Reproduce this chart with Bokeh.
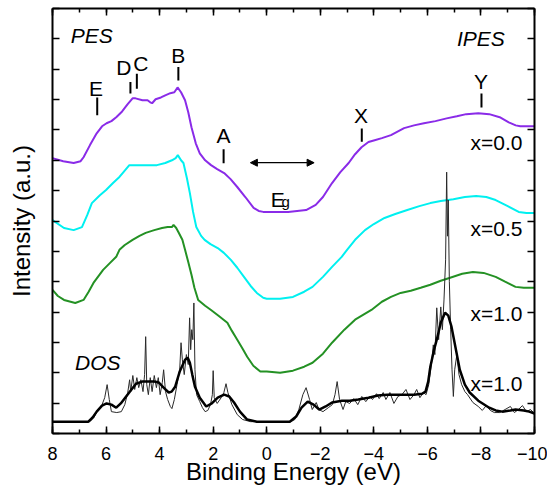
from bokeh.plotting import figure
from bokeh.models import Range1d, LinearAxis, SingleIntervalTicker, Arrow, NormalHead, CustomJSTickFormatter
from bokeh.embed import file_html
from bokeh.resources import INLINE
from bokeh.core.properties import value

# ---------------- data (binding energy in eV, intensity in arbitrary units) ----------------
pes0_x = [8.0, 7.6, 7.21, 6.95, 6.84, 6.6, 6.35, 6.15, 5.98, 5.8, 5.62, 5.4, 5.2, 5.01, 4.9, 4.64,
          4.45, 4.35, 4.28, 4.15, 3.95, 3.79, 3.6, 3.45, 3.33, 3.2, 3.05, 2.93, 2.81, 2.65, 2.5, 2.3,
          2.08, 1.85, 1.59, 1.35, 1.1, 0.8, 0.49, 0.3, 0.13, 0.0, -0.8, -1.47, -1.83, -2.1, -2.44,
          -2.75, -3.06, -3.3, -3.54, -3.8, -4.03, -4.3, -4.64, -5.13, -5.5, -5.87, -6.3, -6.72,
          -7.1, -7.45, -7.9, -8.31, -8.7, -9.04, -9.3, -9.47, -10.0]
pes0_y = [9.07, 8.97, 8.91, 8.97, 9.10, 9.50, 9.89, 10.12, 10.22, 10.29, 10.42, 10.61, 10.84, 11.04,
          11.04, 10.98, 10.98, 10.91, 10.88, 11.01, 11.07, 11.14, 11.21, 11.24, 11.40, 11.24, 10.98,
          10.58, 10.09, 9.56, 9.23, 9.00, 8.84, 8.71, 8.58, 8.38, 8.12, 7.79, 7.43, 7.33, 7.30, 7.30,
          7.30, 7.36, 7.53, 7.79, 8.25, 8.61, 8.91, 9.20, 9.43, 9.60, 9.66, 9.73, 9.83, 10.06, 10.15,
          10.22, 10.29, 10.38, 10.45, 10.52, 10.55, 10.52, 10.42, 10.25, 10.15, 10.12, 10.12]

pes05_x = [8.0, 7.57, 7.21, 6.9, 6.7, 6.53, 6.23, 6.0, 5.74, 5.5, 5.38, 5.13, 4.8, 4.4, 4.1, 3.79,
           3.54, 3.4, 3.32, 3.2, 3.11, 2.98, 2.87, 2.75, 2.63, 2.45, 2.32, 2.1, 1.83, 1.6, 1.34, 1.1,
           0.85, 0.6, 0.37, 0.13, 0.0, -0.5, -0.98, -1.4, -1.71, -2.1, -2.44, -2.8, -3.0, -3.3, -3.67,
           -4.0, -4.4, -4.8, -5.25, -5.7, -6.11, -6.5, -6.97, -7.4, -7.82, -8.2, -8.55, -9.0, -9.41,
           -9.7, -10.0]
pes05_y = [7.03, 6.77, 6.70, 6.80, 7.20, 7.59, 7.85, 8.02, 8.25, 8.45, 8.58, 8.84, 8.84, 8.84, 8.84,
           8.91, 9.00, 9.07, 9.17, 9.00, 8.91, 8.41, 7.92, 7.30, 6.80, 6.51, 6.38, 6.24, 6.11, 5.95,
           5.72, 5.46, 5.16, 4.86, 4.63, 4.47, 4.44, 4.44, 4.50, 4.67, 4.83, 5.16, 5.49, 5.82, 6.05,
           6.38, 6.70, 6.90, 7.10, 7.23, 7.36, 7.49, 7.59, 7.66, 7.72, 7.79, 7.82, 7.79, 7.69, 7.49,
           7.30, 7.26, 7.26]

pes10_x = [8.0, 7.8, 7.57, 7.15, 6.84, 6.65, 6.47, 6.11, 5.85, 5.62, 5.5, 5.3, 5.01, 4.75, 4.52, 4.2,
           3.91, 3.7, 3.54, 3.48, 3.38, 3.3, 3.15, 3.05, 2.93, 2.81, 2.7, 2.56, 2.3, 2.08, 1.8, 1.47,
           1.3, 1.1, 0.9, 0.73, 0.5, 0.24, 0.0, -0.5, -0.98, -1.4, -1.71, -2.1, -2.44, -2.9, -3.3,
           -3.91, -4.3, -4.64, -5.0, -5.38, -5.75, -6.11, -6.5, -6.85, -7.3, -7.7, -8.1, -8.55, -8.9,
           -9.29, -9.6, -10.0]
pes10_y = [4.73, 4.53, 4.40, 4.30, 4.40, 4.67, 4.96, 5.39, 5.62, 5.82, 6.05, 6.21, 6.38, 6.51, 6.61,
           6.70, 6.77, 6.80, 6.80, 6.87, 6.77, 6.64, 6.38, 6.05, 5.65, 5.23, 4.80, 4.40, 4.21, 4.07,
           3.88, 3.65, 3.38, 3.09, 2.79, 2.53, 2.23, 2.04, 2.04, 2.00, 2.07, 2.20, 2.33, 2.63, 2.99,
           3.42, 3.75, 4.07, 4.34, 4.50, 4.63, 4.70, 4.80, 4.90, 5.03, 5.13, 5.26, 5.32, 5.29, 5.16,
           5.00, 4.83, 4.80, 4.80]

dos_smooth_x = [8.0, 7.2, 6.66, 6.5, 6.35, 6.15, 5.98, 5.8, 5.62, 5.45, 5.25, 5.05, 4.88, 4.65, 4.4,
                4.2, 4.03, 3.85, 3.66, 3.55, 3.42, 3.25, 3.05, 2.95, 2.87, 2.78, 2.68, 2.5, 2.26, 2.05,
                1.83, 1.59, 1.4, 1.22, 1.0, 0.73, 0.37, 0.0, -0.86, -1.1, -1.3, -1.53, -1.75, -1.96,
                -2.2, -2.44, -2.81, -3.1, -3.42, -3.8, -4.15, -4.5, -4.89, -5.2, -5.5, -5.8, -5.93,
                -6.03, -6.11, -6.25, -6.35, -6.5, -6.66, -6.78, -6.9, -7.05, -7.21, -7.4, -7.58, -7.9,
                -8.31, -8.55, -8.8, -9.1, -9.29, -9.6, -9.8, -10.0]
dos_smooth_y = [0.39, 0.39, 0.39, 0.53, 0.72, 0.92, 0.99, 0.95, 0.85, 0.99, 1.22, 1.45, 1.64, 1.71,
                1.71, 1.71, 1.68, 1.51, 1.35, 1.38, 1.54, 2.04, 2.43, 2.50, 2.33, 1.94, 1.54, 1.18,
                0.89, 0.99, 1.18, 1.28, 1.22, 1.02, 0.72, 0.46, 0.39, 0.39, 0.39, 0.56, 0.85, 1.05,
                0.95, 0.79, 0.89, 1.02, 1.08, 1.08, 1.12, 1.18, 1.25, 1.28, 1.28, 1.28, 1.28, 1.31,
                1.38, 1.71, 2.20, 2.76, 3.09, 3.65, 3.98, 3.88, 3.52, 2.83, 2.10, 1.61, 1.35, 1.08,
                0.85, 0.76, 0.72, 0.76, 0.79, 0.76, 0.72, 0.66]

dos_raw_x = [8.0, 6.6, 6.45, 6.3, 6.15, 6.05, 5.96, 5.88, 5.8, 5.6, 5.43, 5.3, 5.19, 5.12, 5.08, 5.0,
             4.93, 4.85, 4.78, 4.7, 4.62, 4.56, 4.52, 4.48, 4.42, 4.35, 4.28, 4.2, 4.12, 4.05, 3.98,
             3.9, 3.85, 3.78, 3.7, 3.6, 3.54, 3.45, 3.35, 3.25, 3.2, 3.15, 3.08, 3.0, 2.93, 2.88, 2.84,
             2.8, 2.76, 2.72, 2.68, 2.62, 2.5, 2.4, 2.3, 2.2, 2.1, 2.03, 2.0, 1.96, 1.85, 1.7, 1.6,
             1.52, 1.45, 1.3, 1.1, 0.9, 0.6, -0.9, -1.05, -1.2, -1.35, -1.47, -1.6, -1.7, -1.85,
             -1.95, -2.1, -2.3, -2.45, -2.55, -2.63, -2.72, -2.85, -2.95, -3.1, -3.25, -3.4, -3.55,
             -3.7, -3.85, -3.95, -4.1, -4.2, -4.35, -4.45, -4.6, -4.75, -4.9, -5.05, -5.2, -5.35,
             -5.5, -5.6, -5.72, -5.85, -5.95, -6.05, -6.15, -6.22, -6.28, -6.35, -6.42, -6.5, -6.56,
             -6.62, -6.68, -6.72, -6.75, -6.78, -6.82, -6.87, -6.92, -6.97, -7.02, -7.1, -7.18,
             -7.28, -7.4, -7.5, -7.7, -7.9, -8.05, -8.2, -8.35, -8.5, -8.7, -8.9, -9.1, -9.25, -9.4,
             -9.55, -9.7, -9.85, -10.0]
dos_raw_y = [0.39, 0.39, 0.53, 0.79, 0.95, 1.18, 1.61, 1.12, 0.72, 0.69, 0.72, 0.95, 1.35, 1.77, 1.38,
             1.91, 1.45, 1.84, 1.51, 1.77, 1.38, 1.94, 3.19, 1.61, 1.28, 1.84, 1.38, 1.91, 1.51, 1.84,
             1.28, 1.68, 2.10, 1.38, 1.12, 0.89, 0.82, 1.12, 1.61, 2.10, 2.99, 2.43, 1.94, 2.60, 2.27,
             3.81, 2.76, 3.42, 3.09, 4.30, 2.10, 1.28, 1.05, 0.85, 0.72, 0.76, 0.95, 1.28, 2.07, 1.18,
             0.99, 1.18, 1.35, 1.64, 1.35, 0.95, 0.62, 0.46, 0.39, 0.39, 0.46, 0.79, 1.28, 1.51, 1.12,
             0.79, 1.02, 0.79, 0.72, 0.85, 0.95, 1.28, 1.71, 1.12, 0.79, 1.05, 0.99, 1.15, 0.95, 1.22,
             1.05, 1.22, 1.12, 1.31, 1.15, 1.35, 1.12, 1.35, 0.99, 1.22, 1.28, 1.45, 1.12, 1.28, 1.45,
             1.18, 1.35, 1.28, 1.61, 2.27, 2.92, 2.60, 4.14, 3.09, 4.17, 3.42, 4.40, 5.72, 8.61, 6.50,
             7.69, 5.00, 3.42, 2.10, 1.22, 2.10, 2.60, 1.94, 1.61, 1.38, 1.28, 1.02, 0.89, 0.76, 0.92,
             0.76, 0.69, 0.69, 0.79, 0.89, 0.69, 0.79, 0.92, 0.72, 0.79, 0.66]

# feature labels with their marker ticks
feat_text = ["E", "D", "C", "B", "A", "X", "Y"]
feat_x = [6.38, 5.34, 4.70, 3.30, 1.61, -3.52, -8.0]
feat_y = [11.37, 12.07, 12.18, 12.45, 9.83, 10.48, 11.58]
mark_x = [6.33, 5.09, 4.85, 3.30, 1.61, -3.55, -8.02]
mark_y0 = [10.48, 11.20, 11.36, 11.63, 8.90, 9.61, 10.74]
mark_y1 = [11.07, 11.58, 11.85, 12.07, 9.36, 10.05, 11.20]

# series labels
series_text = ["x=0.0", "x=0.5", "x=1.0", "x=1.0"]
series_x = [-9.55, -9.55, -9.55, -9.55]
series_y = [9.58, 6.75, 3.95, 1.64]

# section labels
section_text = ["PES", "IPES", "DOS"]
section_x = [6.53, -8.0, 6.31]
section_y = [13.10, 13.0, 2.34]

# band gap arrow
gap_x = [0.61, -1.77]
gap_y = [8.92, 8.92]
gap_E_x, gap_E_y = [-0.15], [7.71]
gap_g_x, gap_g_y = [-0.55], [7.64]

x_title = "Binding Energy (eV)"
y_title = "Intensity (a.u.)"
x_ticks_major = 2
y_ticks_major = 1

FONT = "Liberation Sans"

p = figure(width=547, height=487, x_range=Range1d(8, -10), y_range=Range1d(0, 14),
           output_backend="svg", toolbar_location=None,
           min_border_left=52, min_border_right=13, min_border_top=8, min_border_bottom=53)
p.xgrid.visible = False
p.ygrid.visible = False
p.outline_line_color = None
p.background_fill_color = "white"
p.border_fill_color = "white"

xa = p.below[0]
ya = p.left[0]
top_ax = LinearAxis()
right_ax = LinearAxis()
p.add_layout(top_ax, "above")
p.add_layout(right_ax, "right")

for ax in [xa, top_ax]:
    ax.ticker = SingleIntervalTicker(interval=x_ticks_major, num_minor_ticks=2)
for ax in [ya, right_ax]:
    ax.ticker = SingleIntervalTicker(interval=y_ticks_major, num_minor_ticks=0)

for ax in [xa, top_ax, ya, right_ax]:
    ax.axis_line_width = 2
    ax.axis_line_color = "black"
    ax.major_tick_in = 7
    ax.major_tick_out = 0
    ax.minor_tick_in = 4
    ax.minor_tick_out = 0
    ax.major_tick_line_width = 1.5
    ax.minor_tick_line_width = 1.5
    ax.major_tick_line_color = "black"
    ax.minor_tick_line_color = "black"

for ax in [top_ax, ya, right_ax]:
    ax.formatter = CustomJSTickFormatter(code="return ''")
    ax.major_label_standoff = 0

xa.major_label_text_font = FONT
xa.major_label_text_font_size = "18px"
xa.major_label_text_color = "black"
xa.major_label_standoff = 13
xa.axis_label = x_title
xa.axis_label_text_font = FONT
xa.axis_label_text_font_size = "24px"
xa.axis_label_text_font_style = "normal"
xa.axis_label_text_color = "black"
xa.axis_label_standoff = -5

ya.axis_label = y_title
ya.axis_label_text_font = FONT
ya.axis_label_text_font_size = "24px"
ya.axis_label_text_font_style = "normal"
ya.axis_label_text_color = "black"
ya.axis_label_standoff = 18

# curves
p.line(pes10_x, pes10_y, line_color="#249124", line_width=2)
p.line(pes05_x, pes05_y, line_color="#00f0f0", line_width=2)
p.line(pes0_x, pes0_y, line_color="#8a2be8", line_width=2)
p.line(dos_raw_x, dos_raw_y, line_color="#2a2a2a", line_width=1)
p.line(dos_smooth_x, dos_smooth_y, line_color="black", line_width=2.5)

# feature labels
p.text(feat_x, feat_y, text=feat_text, text_font=value(FONT), text_font_size="21px",
       text_align="center", text_baseline="middle", text_color="black")
p.segment(mark_x, mark_y0, mark_x, mark_y1, line_color="black", line_width=2)

p.text(series_x, series_y, text=series_text, text_font=value(FONT), text_font_size="21px",
       text_align="right", text_baseline="middle", text_color="black")
p.text(section_x, section_y, text=section_text, text_font=value(FONT), text_font_size="21px",
       text_font_style="italic", text_align="center", text_baseline="middle", text_color="black")

p.add_layout(Arrow(start=NormalHead(size=7, fill_color="black", line_color="black"),
                   end=NormalHead(size=7, fill_color="black", line_color="black"),
                   x_start=gap_x[0], y_start=gap_y[0], x_end=gap_x[1], y_end=gap_y[1],
                   line_width=1.2, line_color="black"))
p.text(gap_E_x, gap_E_y, text=["E"], text_font=value(FONT), text_font_size="21px",
       text_align="left", text_baseline="alphabetic", text_color="black")
p.text(gap_g_x, gap_g_y, text=["g"], text_font=value(FONT), text_font_size="15px",
       text_align="left", text_baseline="alphabetic", text_color="black")

open("out.html", "w").write(file_html(p, INLINE))
